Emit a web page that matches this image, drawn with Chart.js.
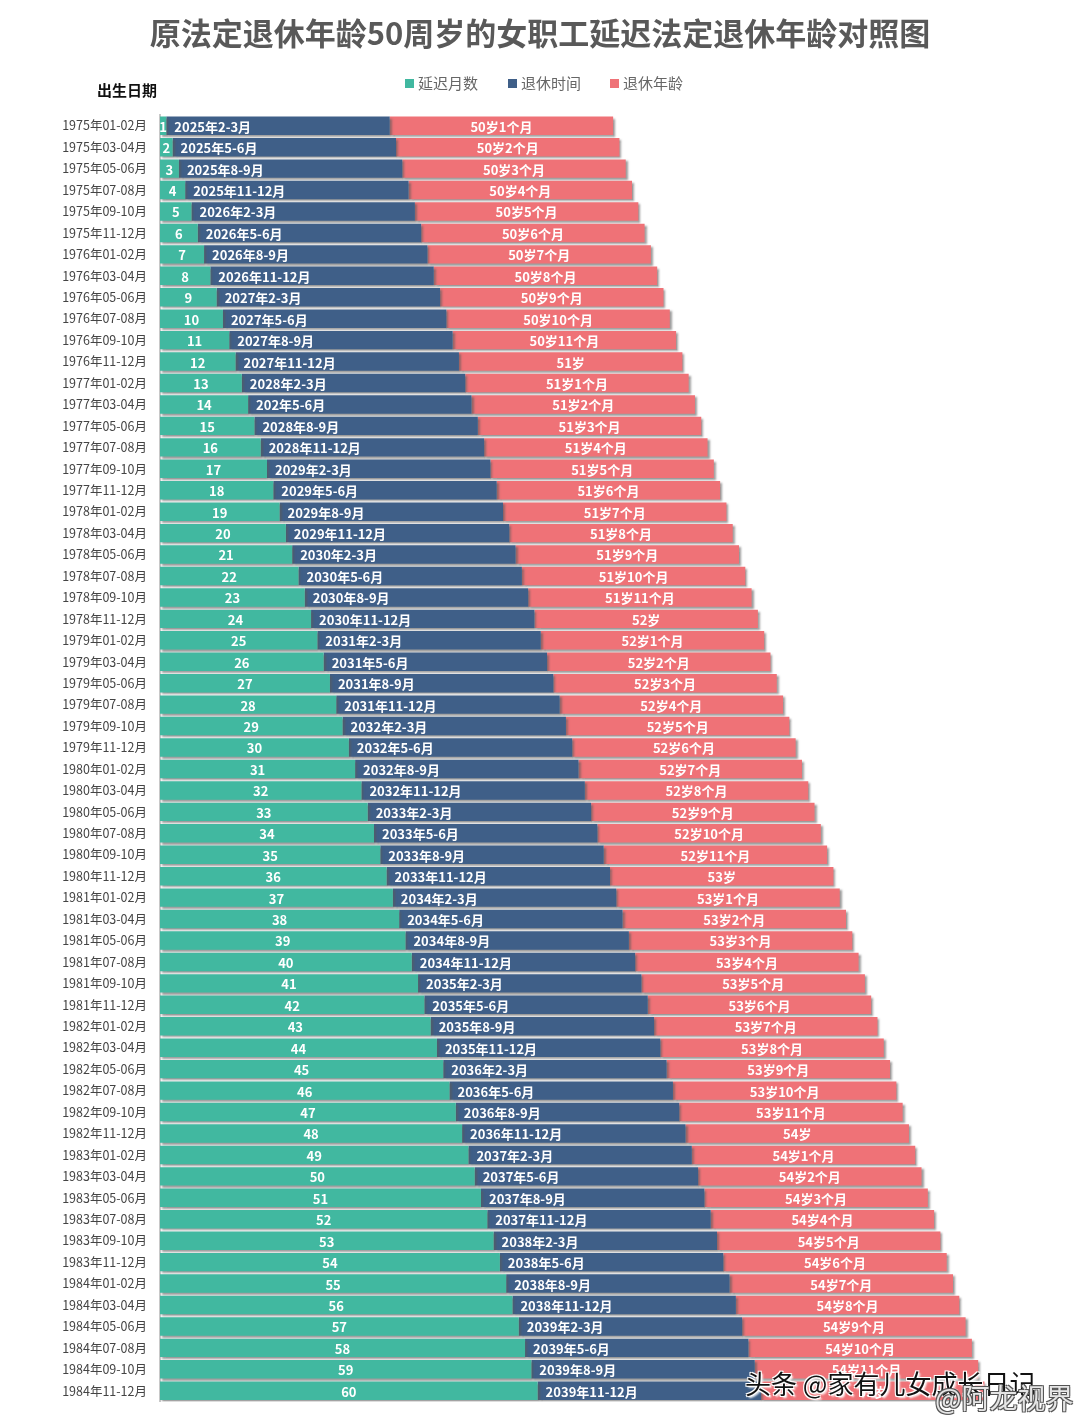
<!DOCTYPE html>
<html>
<head>
<meta charset="utf-8">
<script src="https://cdn.jsdelivr.net/npm/chart.js@4.4.1/dist/chart.umd.min.js"></script>
<style>
  html, body { margin: 0; padding: 0; background: #fff; }
  #wrap { position: relative; width: 1080px; height: 1422px; font-family: "Noto Sans CJK SC", sans-serif; }
  #title { position: absolute; left: 0; width: 1080px; top: 12px; text-align: center; font-size: 31px; font-weight: bold; color: #595959; line-height: 40px; }
  #yname { position: absolute; left: 97px; top: 80px; font-size: 15px; font-weight: bold; color: #111; line-height: 20px; }
  .lg { position: absolute; top: 73px; font-size: 15px; color: #666; line-height: 20px; }
  .lg i { display: inline-block; width: 9px; height: 9px; margin-right: 4px; vertical-align: 1px; }
  #wm1 { position: absolute; left: 745px; top: 1366px; font-size: 26px; color: #111; line-height: 34px;
         text-shadow: -1px -1px 0 #fff, 1px -1px 0 #fff, -1px 1px 0 #fff, 1px 1px 0 #fff, 2px 2px 2px #fff; }
  #wm2 { position: absolute; left: 935px; top: 1380px; font-size: 28px; color: rgba(255,255,255,0.85); line-height: 34px;
         text-shadow: -1px -1px 0 #555, 1px -1px 0 #555, -1px 1px 0 #555, 1px 1px 0 #555; }
  canvas { position: absolute; left: 0; top: 0; }
</style>
</head>
<body>
<div id="wrap">
  <canvas id="myChart" width="1080" height="1422"></canvas>
  <div id="title">原法定退休年龄50周岁的女职工延迟法定退休年龄对照图</div>
  <div id="yname">出生日期</div>
  <div class="lg" style="left:405px"><i style="background:#41b8a0"></i>延迟月数</div>
  <div class="lg" style="left:508px"><i style="background:#3f5f88"></i>退休时间</div>
  <div class="lg" style="left:610px"><i style="background:#ef7277"></i>退休年龄</div>
  <div id="wm1">头条 @家有儿女成长日记</div>
  <div id="wm2">@阿龙视界</div>
</div>
<script>
const birthDates = [
  '1975年01-02月', '1975年03-04月', '1975年05-06月', '1975年07-08月', '1975年09-10月', '1975年11-12月',
  '1976年01-02月', '1976年03-04月', '1976年05-06月', '1976年07-08月', '1976年09-10月', '1976年11-12月',
  '1977年01-02月', '1977年03-04月', '1977年05-06月', '1977年07-08月', '1977年09-10月', '1977年11-12月',
  '1978年01-02月', '1978年03-04月', '1978年05-06月', '1978年07-08月', '1978年09-10月', '1978年11-12月',
  '1979年01-02月', '1979年03-04月', '1979年05-06月', '1979年07-08月', '1979年09-10月', '1979年11-12月',
  '1980年01-02月', '1980年03-04月', '1980年05-06月', '1980年07-08月', '1980年09-10月', '1980年11-12月',
  '1981年01-02月', '1981年03-04月', '1981年05-06月', '1981年07-08月', '1981年09-10月', '1981年11-12月',
  '1982年01-02月', '1982年03-04月', '1982年05-06月', '1982年07-08月', '1982年09-10月', '1982年11-12月',
  '1983年01-02月', '1983年03-04月', '1983年05-06月', '1983年07-08月', '1983年09-10月', '1983年11-12月',
  '1984年01-02月', '1984年03-04月', '1984年05-06月', '1984年07-08月', '1984年09-10月', '1984年11-12月'
]

const delayMonths = [
  1, 2, 3, 4, 5, 6, 7, 8, 9, 10, 11, 12,
  13, 14, 15, 16, 17, 18, 19, 20, 21, 22, 23, 24,
  25, 26, 27, 28, 29, 30, 31, 32, 33, 34, 35, 36,
  37, 38, 39, 40, 41, 42, 43, 44, 45, 46, 47, 48,
  49, 50, 51, 52, 53, 54, 55, 56, 57, 58, 59, 60
]

// blue and pink segments are fixed width in the picture
const retireTimeBar = [
  35.5, 35.5, 35.5, 35.5, 35.5, 35.5, 35.5, 35.5, 35.5, 35.5, 35.5, 35.5,
  35.5, 35.5, 35.5, 35.5, 35.5, 35.5, 35.5, 35.5, 35.5, 35.5, 35.5, 35.5,
  35.5, 35.5, 35.5, 35.5, 35.5, 35.5, 35.5, 35.5, 35.5, 35.5, 35.5, 35.5,
  35.5, 35.5, 35.5, 35.5, 35.5, 35.5, 35.5, 35.5, 35.5, 35.5, 35.5, 35.5,
  35.5, 35.5, 35.5, 35.5, 35.5, 35.5, 35.5, 35.5, 35.5, 35.5, 35.5, 35.5
]
const retireAgeBar = [
  35.5, 35.5, 35.5, 35.5, 35.5, 35.5, 35.5, 35.5, 35.5, 35.5, 35.5, 35.5,
  35.5, 35.5, 35.5, 35.5, 35.5, 35.5, 35.5, 35.5, 35.5, 35.5, 35.5, 35.5,
  35.5, 35.5, 35.5, 35.5, 35.5, 35.5, 35.5, 35.5, 35.5, 35.5, 35.5, 35.5,
  35.5, 35.5, 35.5, 35.5, 35.5, 35.5, 35.5, 35.5, 35.5, 35.5, 35.5, 35.5,
  35.5, 35.5, 35.5, 35.5, 35.5, 35.5, 35.5, 35.5, 35.5, 35.5, 35.5, 35.5
]

const retireTimes = [
  '2025年2-3月', '2025年5-6月', '2025年8-9月', '2025年11-12月',
  '2026年2-3月', '2026年5-6月', '2026年8-9月', '2026年11-12月',
  '2027年2-3月', '2027年5-6月', '2027年8-9月', '2027年11-12月',
  '2028年2-3月', '202年5-6月', '2028年8-9月', '2028年11-12月',
  '2029年2-3月', '2029年5-6月', '2029年8-9月', '2029年11-12月',
  '2030年2-3月', '2030年5-6月', '2030年8-9月', '2030年11-12月',
  '2031年2-3月', '2031年5-6月', '2031年8-9月', '2031年11-12月',
  '2032年2-3月', '2032年5-6月', '2032年8-9月', '2032年11-12月',
  '2033年2-3月', '2033年5-6月', '2033年8-9月', '2033年11-12月',
  '2034年2-3月', '2034年5-6月', '2034年8-9月', '2034年11-12月',
  '2035年2-3月', '2035年5-6月', '2035年8-9月', '2035年11-12月',
  '2036年2-3月', '2036年5-6月', '2036年8-9月', '2036年11-12月',
  '2037年2-3月', '2037年5-6月', '2037年8-9月', '2037年11-12月',
  '2038年2-3月', '2038年5-6月', '2038年8-9月', '2038年11-12月',
  '2039年2-3月', '2039年5-6月', '2039年8-9月', '2039年11-12月'
]

const retireAges = [
  '50岁1个月', '50岁2个月', '50岁3个月', '50岁4个月', '50岁5个月', '50岁6个月',
  '50岁7个月', '50岁8个月', '50岁9个月', '50岁10个月', '50岁11个月', '51岁',
  '51岁1个月', '51岁2个月', '51岁3个月', '51岁4个月', '51岁5个月', '51岁6个月',
  '51岁7个月', '51岁8个月', '51岁9个月', '51岁10个月', '51岁11个月', '52岁',
  '52岁1个月', '52岁2个月', '52岁3个月', '52岁4个月', '52岁5个月', '52岁6个月',
  '52岁7个月', '52岁8个月', '52岁9个月', '52岁10个月', '52岁11个月', '53岁',
  '53岁1个月', '53岁2个月', '53岁3个月', '53岁4个月', '53岁5个月', '53岁6个月',
  '53岁7个月', '53岁8个月', '53岁9个月', '53岁10个月', '53岁11个月', '54岁',
  '54岁1个月', '54岁2个月', '54岁3个月', '54岁4个月', '54岁5个月', '54岁6个月',
  '54岁7个月', '54岁8个月', '54岁9个月', '54岁10个月', '54岁11个月', '55岁'
]

const FONT = '"Noto Sans CJK SC", sans-serif'

// drop shadow under bars + white labels on top
const barDecor = {
  id: 'barDecor',
  beforeDatasetsDraw(chart) {
    const ctx = chart.ctx
    ctx.save()
    ctx.shadowColor = 'rgba(90,90,90,0.6)'
    ctx.shadowOffsetX = 2
    ctx.shadowOffsetY = 2
    ctx.shadowBlur = 2
  },
  afterDatasetsDraw(chart) {
    const ctx = chart.ctx
    ctx.restore()
    ctx.save()
    ctx.font = 'bold 13px ' + FONT
    ctx.fillStyle = '#fff'
    ctx.textBaseline = 'middle'
    const texts = [delayMonths.map(String), retireTimes, retireAges]
    chart.data.datasets.forEach((ds, i) => {
      chart.getDatasetMeta(i).data.forEach((bar, j) => {
        const left = Math.min(bar.x, bar.base)
        const right = Math.max(bar.x, bar.base)
        if (i === 1) {
          ctx.textAlign = 'left'
          ctx.fillText(texts[i][j], left + 8, bar.y + 1)
        } else {
          ctx.textAlign = 'center'
          ctx.fillText(texts[i][j], (left + right) / 2, bar.y + 1)
        }
      })
    })
    ctx.restore()
  }
}

const ctx = document.getElementById('myChart')
new Chart(ctx, {
  type: 'bar',
  data: {
    labels: birthDates,
    datasets: [
      { label: '延迟月数', data: delayMonths, backgroundColor: '#41b8a0' },
      { label: '退休时间', data: retireTimeBar, backgroundColor: '#3f5f88' },
      { label: '退休年龄', data: retireAgeBar, backgroundColor: '#ef7277' }
    ]
  },
  options: {
    indexAxis: 'y',
    responsive: false,
    animation: false,
    devicePixelRatio: 1,
    datasets: { bar: { barPercentage: 0.86, categoryPercentage: 1 } },
    layout: { padding: { top: 115, bottom: 15, left: 0, right: 20 } },
    scales: {
      x: { stacked: true, display: false, min: 0, max: 143 },
      y: {
        stacked: true,
        afterFit(scale) { scale.width = 160 },
        grid: { display: false, drawTicks: false },
        border: { display: true, color: '#c8c8c8', width: 2 },
        ticks: { color: '#444', font: { family: FONT, size: 12.5 }, padding: 13, autoSkip: false }
      }
    },
    plugins: {
      legend: { display: false },
      tooltip: { enabled: false }
    }
  },
  plugins: [barDecor]
})
</script>
</body>
</html>
